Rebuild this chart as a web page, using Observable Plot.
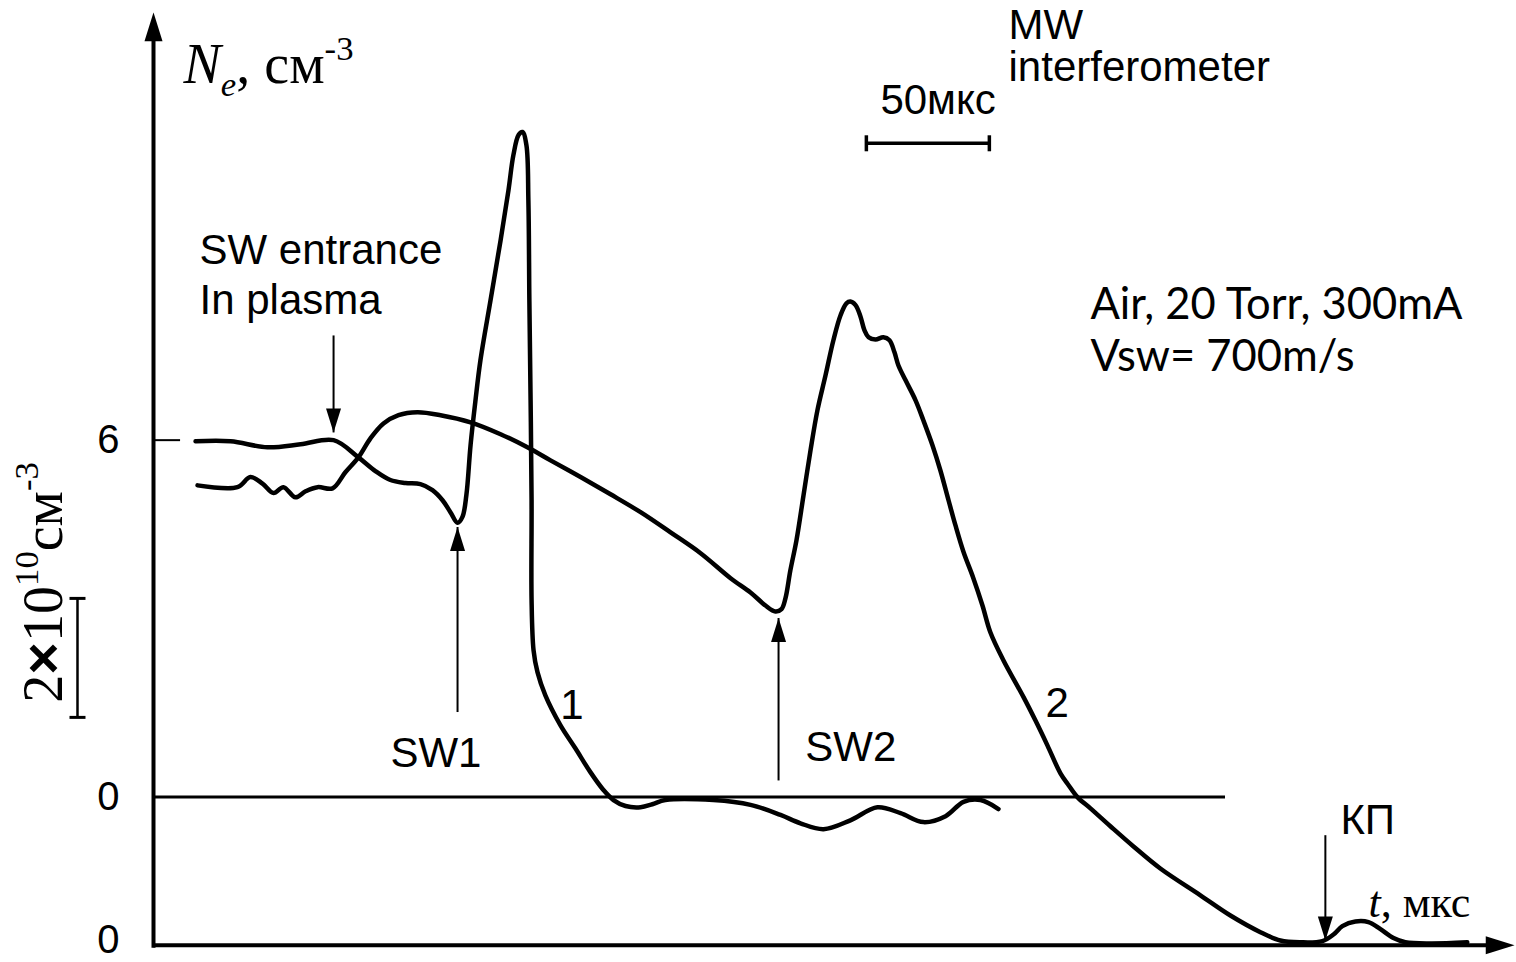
<!DOCTYPE html>
<html>
<head>
<meta charset="utf-8">
<script src="https://cdn.jsdelivr.net/npm/d3@7"></script>
<script src="https://cdn.jsdelivr.net/npm/@observablehq/plot@0.6"></script>
<style>
  html, body { margin: 0; padding: 0; background: #fff; }
  #chart svg { display: block; }
</style>
</head>
<body>
<div id="chart"></div>
<script>
// ---- Trace 1 (sharp peak), time in µs, Ne in 10^10 cm^-3 relative to its own zero line
const t1 = [17.1, 31.3, 46.3, 59.8, 73.2, 83.3, 90.2, 96.3, 102.4, 108.5,
  113.4, 117.5, 120.7, 123.6, 125.6, 127.2, 128.9, 130.9, 132.9, 137.0,
  141.1, 144.3, 146.3, 148.4, 150.0, 151.6, 152.4, 152.8, 153.3, 153.7,
  153.7, 154.5, 156.1, 159.3, 165.4, 171.5, 177.6, 182.9, 187.0, 191.9,
  198.0, 202.8, 208.1, 227.6, 242.7, 254.9, 263.0, 272.4, 283.3, 294.3,
  303.7, 313.0, 322.0, 329.3, 336.2, 343.5];
const ne1 = [5.98, 5.98, 5.88, 5.93, 6.00, 5.71, 5.48, 5.33, 5.28, 5.26,
  5.16, 4.99, 4.79, 4.61, 4.71, 5.08, 5.92, 6.67, 7.34, 8.35,
  9.36, 10.20, 10.79, 11.13, 11.18, 10.96, 10.03, 8.35, 6.67, 4.99,
  3.31, 2.47, 2.10, 1.71, 1.21, 0.82, 0.42, 0.12, -0.05, -0.15,
  -0.17, -0.12, -0.05, -0.05, -0.13, -0.30, -0.44, -0.54, -0.39, -0.17,
  -0.27, -0.42, -0.32, -0.08, -0.05, -0.20];

// ---- Trace 2 (broad peak), Ne relative to the time axis
const t2 = [17.9, 34.1, 39.4, 44.3, 48.8, 52.8, 57.7, 61.8, 66.7, 72.8,
  78.0, 83.3, 88.2, 93.5, 99.6, 107.3, 116.7, 128.9, 141.1, 152.0,
  161.4, 173.6, 185.8, 198.0, 210.2, 222.4, 234.6, 242.7, 248.8, 252.8,
  255.3, 256.9, 258.9, 261.4, 264.2, 267.1, 269.9, 273.2, 276.4, 279.3,
  281.7, 283.3, 285.4, 287.4, 289.0, 290.7, 293.5, 296.7, 299.2, 301.2,
  302.8, 305.7, 309.8, 313.0, 316.7, 319.9, 323.2, 326.0, 329.3, 333.3,
  337.0, 340.2, 345.5, 353.7, 358.5, 363.4, 368.7, 372.0, 375.6, 380.9,
  389.0, 398.4, 409.3, 425.6, 437.8, 450.0, 458.1, 466.3, 475.2, 479.7,
  483.3, 488.6, 493.9, 498.8, 504.1, 508.9, 519.1, 534.1];
const ne2 = [7.73, 7.70, 7.87, 7.76, 7.60, 7.70, 7.53, 7.63, 7.70, 7.68,
  7.95, 8.20, 8.52, 8.77, 8.91, 8.96, 8.91, 8.79, 8.59, 8.37,
  8.15, 7.87, 7.58, 7.28, 6.94, 6.59, 6.17, 5.93, 5.71, 5.61,
  5.65, 5.83, 6.30, 6.81, 7.55, 8.32, 8.99, 9.58, 10.17, 10.59,
  10.79, 10.82, 10.76, 10.57, 10.34, 10.22, 10.18, 10.22, 10.17, 9.97,
  9.75, 9.50, 9.16, 8.82, 8.40, 7.98, 7.48, 7.06, 6.61, 6.17,
  5.71, 5.26, 4.79, 4.17, 3.78, 3.36, 2.89, 2.69, 2.49, 2.30,
  2.00, 1.66, 1.29, 0.84, 0.50, 0.22, 0.08, 0.05, 0.07, 0.18,
  0.32, 0.40, 0.39, 0.27, 0.12, 0.05, 0.03, 0.05];

// zero level of trace 1 above the time axis (10^10 cm^-3)
const curve1Zero = 2.49;
const zeroLineEnd = 435.8;       // µs, end of trace-1 zero line
const axisEnd = 545;             // µs, x axis line end
const axisTip = [553.3, 15.68];  // arrow tips of the x and y axes

// ---- Tick labels on the Ne axis
const tickText = ["6", "0", "0"];
const tickNe = [6, 0, 0];
const tickTrace = [1, 1, 2];
const tickLen = 11;              // µs, short tick at "6"

// ---- Annotation arrows
const arrowName = ["SW entrance", "SW1", "SW2", "КП"];
const arrowT = [73.2, 123.6, 254.1, 476.4];
const arrowFrom = [10.25, 3.92, 2.77, 1.85];
const arrowTo = [8.62, 7.03, 5.50, 0.08];

// ---- Scale bars
const timeBar = [289.8, 339.8];  // 50 µs
const timeBarY = 13.48;
const neBar = [3.83, 5.83];      // 2×10^10 cm^-3
const neBarT = -30.9;

// ---- Text labels (sans)
const labelText = ["SW entrance", "In plasma", "SW1", "SW2", "1", "2", "КП", "MW\ninterferometer", "50мкс"];
const labelT = [18.7, 18.7, 96.3, 265.0, 165.4, 362.6, 482.5, 347.6, 295.5];
const labelY = [11.68, 10.84, 3.23, 3.33, 4.03, 4.07, 2.10, 15.10, 14.20];

const noteText = ["Air, 20 Torr, 300mA", "Vsw= 700m/s"];
const noteT = [380.9, 380.9];
const noteY = [10.76, 9.88];

// serif labels (rich text rendered with tspans)
const serifText = ["Ne, см-3", "t, мкс"];
const serifT = [12.2, 493.9];
const serifY = [14.79, 0.72];
const serifSize = [56, 44];

const yTitle = "2×1010см-3";
const yTitleT = -44.5, yTitleY = 6.10;

const rich = {
  "Ne, см-3": [["N", "it"], ["e", "it sub"], [", см", ""], ["-3", "sup"]],
  "t, мкс": [["t", "it"], [", мкс", ""]],
  "2×1010см-3": [["2", ""], ["×", "times"], ["10", ""], ["10", "sup"], ["см", ""], ["-3", "sup"]]
};

function head(dir) {
  return {
    draw(ctx, size) {
      const r = Math.sqrt(size / Math.PI), L = 3.2 * r, w = r;
      let p;
      if (dir === "up") p = [[0, 0], [-w, L], [w, L]];
      else if (dir === "down") p = [[0, 0], [-w, -L], [w, -L]];
      else p = [[0, 0], [-L, -w], [-L, w]];
      ctx.moveTo(p[0][0], p[0][1]); ctx.lineTo(p[1][0], p[1][1]); ctx.lineTo(p[2][0], p[2][1]); ctx.closePath();
    }
  };
}
const vCap = {draw(ctx, size) { const r = Math.sqrt(size / Math.PI); ctx.moveTo(0, -r); ctx.lineTo(0, r); }};
const hCap = {draw(ctx, size) { const r = Math.sqrt(size / Math.PI); ctx.moveTo(-r, 0); ctx.lineTo(r, 0); }};

const SANS = "Liberation Sans, Arial, sans-serif";
const SERIF = "Liberation Serif, Times New Roman, serif";
const idx = arrowName.map((_, i) => i);

const chart = Plot.plot({
  width: 1516,
  height: 962,
  margin: 0,
  style: {background: "#fff", overflow: "hidden"},
  x: {domain: [-62.2, 554.1], axis: null},
  y: {domain: [-0.29, 15.88], axis: null},
  marks: [
    // axes
    Plot.ruleX([0], {y1: -0.05, y2: 15.3, stroke: "black", strokeWidth: 4}),
    Plot.ruleY([0], {x1: 0, x2: axisEnd, stroke: "black", strokeWidth: 4}),
    Plot.dot([0], {x: 0, y: axisTip[1], symbol: head("up"), r: 9, fill: "black", stroke: "none"}),
    Plot.dot([0], {x: axisTip[0], y: 0, symbol: head("right"), r: 9, fill: "black", stroke: "none"}),
    // zero line of trace 1 and the "6" tick
    Plot.ruleY([curve1Zero], {x1: 0, x2: zeroLineEnd, stroke: "black", strokeWidth: 3}),
    Plot.ruleY([6 + curve1Zero], {x1: 0, x2: tickLen, stroke: "black", strokeWidth: 2}),
    Plot.text(tickText, {x: -18.3, y: tickText.map((_, i) => tickNe[i] + (tickTrace[i] === 1 ? curve1Zero : 0) + (tickTrace[i] === 2 ? 0.08 : 0)),
      text: d => d, fontFamily: SANS, fontSize: 40, textAnchor: "middle", fill: "black"}),
    // scale bars
    Plot.ruleY([timeBarY], {x1: timeBar[0], x2: timeBar[1], stroke: "black", strokeWidth: 3.5}),
    Plot.dot(timeBar, {x: d => d, y: timeBarY, symbol: vCap, r: 8, fill: "none", stroke: "black", strokeWidth: 3.5}),
    Plot.ruleX([neBarT], {y1: neBar[0], y2: neBar[1], stroke: "black", strokeWidth: 2.5}),
    Plot.dot(neBar, {x: neBarT, y: d => d, symbol: hCap, r: 8, fill: "none", stroke: "black", strokeWidth: 3}),
    // traces
    Plot.line(t1, {x: t1, y: ne1.map(v => v + curve1Zero), curve: "catmull-rom", stroke: "black", strokeWidth: 4.5, strokeLinejoin: "round"}),
    Plot.line(t2, {x: t2, y: ne2, curve: "catmull-rom", stroke: "black", strokeWidth: 4.5, strokeLinejoin: "round"}),
    // annotation arrows
    Plot.link(idx, {x1: i => arrowT[i], x2: i => arrowT[i], y1: i => arrowFrom[i], y2: i => arrowTo[i], stroke: "black", strokeWidth: 2}),
    Plot.dot(idx, {filter: i => arrowTo[i] > arrowFrom[i], x: i => arrowT[i], y: i => arrowTo[i], symbol: head("up"), r: 7.5, fill: "black", stroke: "none"}),
    Plot.dot(idx, {filter: i => arrowTo[i] < arrowFrom[i], x: i => arrowT[i], y: i => arrowTo[i], symbol: head("down"), r: 7.5, fill: "black", stroke: "none"}),
    // text
    Plot.text(labelText, {x: labelT, y: labelY, text: d => d, fontFamily: SANS, fontSize: 42, lineHeight: 1.0, textAnchor: "start", fill: "black"}),
    Plot.text(noteText, {x: noteT, y: noteY, text: d => d, fontFamily: "Lato, Open Sans, sans-serif", fontSize: 43.5, textAnchor: "start", fill: "black"}),
    Plot.text(serifText, {x: serifT, y: serifY, text: d => d, fontFamily: SERIF, fontSize: (d, i) => serifSize[i], textAnchor: "start", fill: "black"}),
    Plot.text([yTitle], {x: yTitleT, y: yTitleY, text: d => d, rotate: -90, fontFamily: SERIF, fontSize: 56, textAnchor: "middle", fill: "black"})
  ]
});

document.getElementById("chart").append(chart);

chart.querySelectorAll("text").forEach(el => {
  const segs = rich[el.textContent];
  if (!segs) return;
  const base = parseFloat(getComputedStyle(el).fontSize) || 40;
  el.textContent = "";
  let cur = 0;
  for (const [s, k] of segs) {
    const ts = document.createElementNS("http://www.w3.org/2000/svg", "tspan");
    ts.textContent = s;
    const target = k.includes("sub") ? 0.22 * base : k.includes("sup") ? -0.42 * base : 0;
    if (target !== cur) { ts.setAttribute("dy", target - cur); cur = target; }
    if (k.includes("it")) ts.setAttribute("font-style", "italic");
    if (k.includes("sub") || k.includes("sup")) ts.setAttribute("font-size", 0.62 * base);
    if (k.includes("times")) { ts.setAttribute("font-family", SANS); ts.setAttribute("font-weight", "bold"); }
    el.append(ts);
  }
});
</script>
</body>
</html>
